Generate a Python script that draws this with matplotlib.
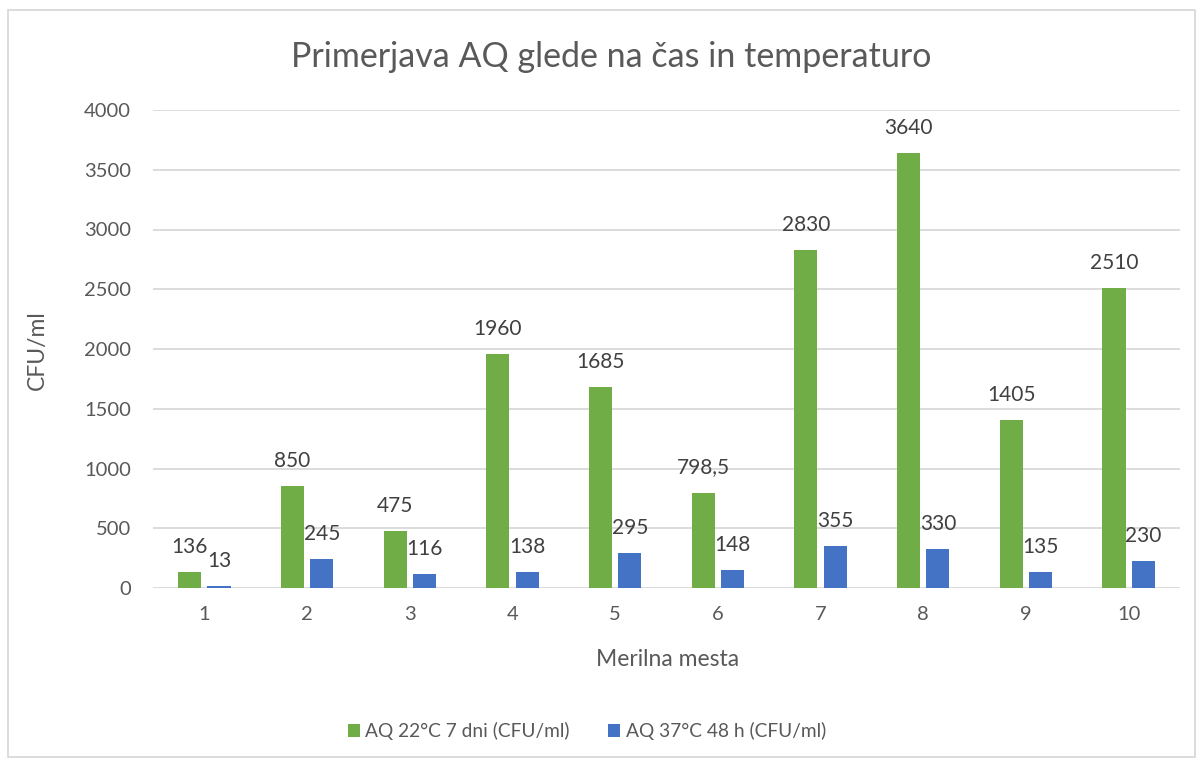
import matplotlib
matplotlib.use("Agg")
import matplotlib.pyplot as plt
from matplotlib.patches import Rectangle
import numpy as np

plt.rcParams['font.family'] = ['Lato', 'DejaVu Sans']

categories = ["1", "2", "3", "4", "5", "6", "7", "8", "9", "10"]
series_22 = [136, 850, 475, 1960, 1685, 798.5, 2830, 3640, 1405, 2510]
series_37 = [13, 245, 116, 138, 295, 148, 355, 330, 135, 230]
labels_22 = ["136", "850", "475", "1960", "1685", "798,5", "2830", "3640", "1405", "2510"]
labels_37 = ["13", "245", "116", "138", "295", "148", "355", "330", "135", "230"]
name_22 = "AQ 22°C 7 dni (CFU/ml)"
name_37 = "AQ 37°C 48 h (CFU/ml)"
yticks = [0, 500, 1000, 1500, 2000, 2500, 3000, 3500, 4000]

GREEN = "#70AD47"
BLUE = "#4472C4"
TXT = "#595959"
GRID = "#D9D9D9"

W, H = 1202, 760
fig = plt.figure(figsize=(W / 100, H / 100), dpi=100)
fig.patches.append(Rectangle((8 / W, 3 / H), 1187 / W, 747 / H, transform=fig.transFigure,
                             fill=False, edgecolor=GRID, linewidth=1.3))

ax = fig.add_axes([153 / W, (H - 588) / H, (1180 - 153) / W, (588 - 110) / H])
x = np.arange(1, len(categories) + 1)
bw = 0.225
off = 0.143
b1 = ax.bar(x - off, series_22, bw, color=GREEN, label=name_22, zorder=3)
b2 = ax.bar(x + off, series_37, bw, color=BLUE, label=name_37, zorder=3)

for xi, v, lab in zip(x - off, series_22, labels_22):
    ax.annotate(lab, (xi, v), xytext=(0, 25), textcoords='offset pixels',
                ha='center', va='center', fontsize=15, color="#404040")
for xi, v, lab in zip(x + off, series_37, labels_37):
    ax.annotate(lab, (xi, v), xytext=(0, 25), textcoords='offset pixels',
                ha='center', va='center', fontsize=15, color="#404040")

ax.set_xlim(0.5, len(categories) + 0.5)
ax.set_ylim(0, 4000)
ax.set_yticks(yticks)
ax.set_yticklabels([str(t) for t in yticks])
ax.set_xticks(x)
ax.set_xticklabels(categories)
ax.tick_params(axis='both', length=0, labelsize=14.5, labelcolor=TXT)
ax.tick_params(axis='y', pad=16)
ax.tick_params(axis='x', pad=13)
ax.grid(axis='y', color=GRID, linewidth=1.3, zorder=0)
for s in ax.spines.values():
    s.set_visible(False)

fig.text(611 / W, 1 - 57 / H, "Primerjava AQ glede na čas in temperaturo",
         ha='center', va='center', fontsize=24.5, color=TXT)
fig.text(668 / W, 1 - 659 / H, "Merilna mesta", ha='center', va='center',
         fontsize=16.5, color=TXT)
fig.text(37 / W, 1 - 350 / H, "CFU/ml", ha='center', va='center', rotation=90,
         fontsize=16.5, color=TXT)

fig.legend(handles=[b1, b2], labels=[name_22, name_37], loc='center',
           bbox_to_anchor=(587 / W, 1 - 731 / H), ncol=2, frameon=False,
           fontsize=13.8, labelcolor=TXT, handlelength=0.6, handleheight=0.7,
           handletextpad=0.3, columnspacing=2.0)

fig.savefig("out.png", dpi=100)
